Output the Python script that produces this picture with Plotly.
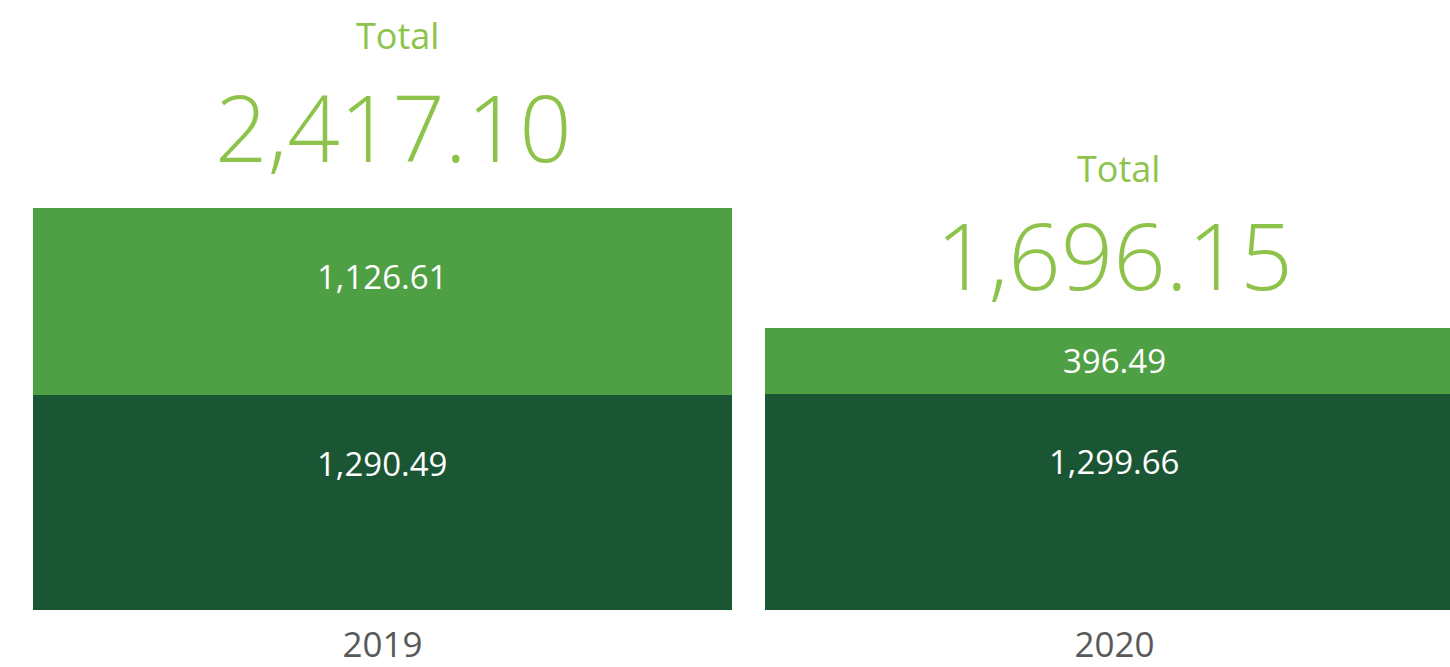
import plotly.graph_objects as go

# Values per year
years = ["2019", "2020"]
lower_values = [1290.49, 1299.66]
upper_values = [1126.61, 396.49]
totals = [2417.10, 1696.15]

DARK = "#1a5634"
LIGHT = "#4fa045"
ACCENT = "#8dc34a"
FONT = "Open Sans"

fig = go.Figure()
fig.add_trace(go.Bar(x=years, y=lower_values, marker=dict(color=DARK, line=dict(width=0)),
                     hoverinfo="skip"))
fig.add_trace(go.Bar(x=years, y=upper_values, marker=dict(color=LIGHT, line=dict(width=0)),
                     hoverinfo="skip"))

PX_PER_UNIT = 0.1663
label_drop = 68 / PX_PER_UNIT

# offsets (px) of the total heading above each stack
total_xshift = [11, 0]
number_yshift = [17, 9]
heading_yshift = [146, 133]

annotations = []
for i, yr in enumerate(years):
    lo, up, tot = lower_values[i], upper_values[i], totals[i]
    # segment labels sit near the top of each segment (centred if the segment is short)
    for base, val in ((0, lo), (lo, up)):
        top = base + val
        annotations.append(dict(x=i, y=top - min(val / 2, label_drop), xref="x", yref="y",
                                text=f"{val:,.2f}", showarrow=False,
                                font=dict(family=FONT, size=33, color="white")))
    # total heading above the stack
    annotations.append(dict(x=i, y=tot, xref="x", yref="y", yanchor="bottom",
                            text=f"{tot:,.2f}", showarrow=False,
                            xshift=total_xshift[i], yshift=number_yshift[i],
                            font=dict(family=FONT, size=92, color=ACCENT, weight=300)))
    annotations.append(dict(x=i, y=tot, xref="x", yref="y", yanchor="bottom",
                            text="Total", showarrow=False,
                            xshift=total_xshift[i] + 4, yshift=heading_yshift[i],
                            font=dict(family=FONT, size=36, color=ACCENT)))

fig.update_layout(
    barmode="stack",
    bargap=0.045,
    width=1450,
    height=667,
    margin=dict(l=0, r=0, t=0, b=57, autoexpand=False),
    paper_bgcolor="white",
    plot_bgcolor="white",
    showlegend=False,
    annotations=annotations,
    xaxis=dict(type="category", range=[-0.5225, 1.4584], showgrid=False, zeroline=False,
               showline=False, ticks="", ticklabelstandoff=11, automargin=False,
               tickfont=dict(family=FONT, size=35, color="#595959"), fixedrange=True),
    yaxis=dict(range=[0, 610 / PX_PER_UNIT], visible=False, fixedrange=True,
               automargin=False),
)

fig.write_html("out.html", config={"displayModeBar": False})
